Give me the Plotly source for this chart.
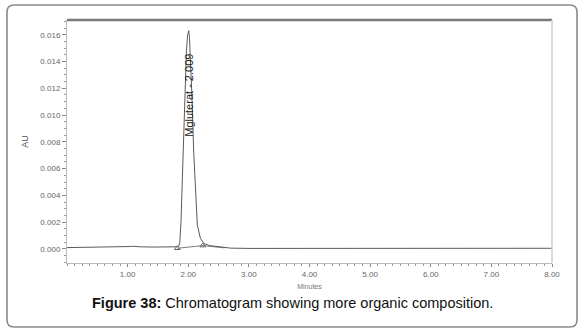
import plotly.graph_objects as go

# Chromatogram trace (minutes, AU)
time_min = [0.0, 0.3, 0.6, 0.9, 1.05, 1.1, 1.2, 1.4, 1.6, 1.8, 1.84, 1.86, 1.88, 1.91, 1.94, 1.97,
            1.99, 2.009, 2.02, 2.04, 2.06, 2.09, 2.12, 2.15, 2.2, 2.26, 2.35, 2.5, 2.7, 3.0,
            4.0, 5.0, 6.0, 7.0, 8.0]
absorb_au = [0.00010, 0.00011, 0.00012, 0.00014, 0.00018, 0.00020, 0.00016, 0.00014, 0.00014, 0.00016,
             0.00020, 0.00045, 0.0020, 0.0065, 0.0115, 0.0148, 0.0160, 0.0163, 0.0158, 0.0140,
             0.0115, 0.0072, 0.0038, 0.0018, 0.0008, 0.0004, 0.00025, 0.00015, 0.00006, 0.00004,
             0.00004, 0.00004, 0.00004, 0.00005, 0.00005]

# Integration baseline and markers
base_time = [1.82, 2.24, 2.6]
base_au = [0.00005, 0.00025, 0.00008]
marker_time = [1.82, 2.24]
marker_au = [0.00005, 0.00025]

peak_name = "Mgluterat - 2.009"
peak_time = 2.009
peak_label_au = 0.0115

x_tickvals = [1, 2, 3, 4, 5, 6, 7, 8]
x_ticktext = ["1.00", "2.00", "3.00", "4.00", "5.00", "6.00", "7.00", "8.00"]
y_tickvals = [0.0, 0.002, 0.004, 0.006, 0.008, 0.010, 0.012, 0.014, 0.016]
y_ticktext = ["0.000", "0.002", "0.004", "0.006", "0.008", "0.010", "0.012", "0.014", "0.016"]

caption_bold = "Figure 38:"
caption_rest = " Chromatogram showing more organic composition."

fig = go.Figure()
fig.add_trace(go.Scatter(x=time_min, y=absorb_au, mode="lines",
                         line=dict(color="#5a5a5a", width=1), hoverinfo="skip"))
fig.add_trace(go.Scatter(x=base_time, y=base_au, mode="lines",
                         line=dict(color="#5a5a5a", width=0.8), hoverinfo="skip"))
fig.add_trace(go.Scatter(x=marker_time, y=marker_au, mode="markers",
                         marker=dict(symbol="triangle-up-open", size=5, color="#666"),
                         hoverinfo="skip"))

fig.add_annotation(x=peak_time, y=peak_label_au, text=peak_name, textangle=-90,
                   showarrow=False, font=dict(family="Liberation Sans", size=11, color="#222"),
                   xanchor="center", yanchor="middle")

W, H = 584, 332
L, R, T, B = 67, 32, 20, 69
pw, ph = W - L - R, H - T - B


def px(x):
    return (x - L) / pw


def py(y):
    return (H - B - y) / ph


# outer rounded frame
x0, x1, y0, y1 = px(7), px(577), py(327), py(5)
rx, ry = 7 / pw, 7 / ph
path = (f"M {x0+rx},{y1} L {x1-rx},{y1} Q {x1},{y1} {x1},{y1-ry} "
        f"L {x1},{y0+ry} Q {x1},{y0} {x1-rx},{y0} L {x0+rx},{y0} Q {x0},{y0} {x0},{y0+ry} "
        f"L {x0},{y1-ry} Q {x0},{y1} {x0+rx},{y1} Z")
fig.add_shape(type="path", path=path, xref="paper", yref="paper",
              line=dict(color="#8a8a8a", width=1.6))
# plot frame lines
fig.add_shape(type="line", xref="paper", yref="paper", x0=0, x1=1, y0=1, y1=1,
              line=dict(color="#7a7a7a", width=2.5))
fig.add_shape(type="line", xref="paper", yref="paper", x0=1, x1=1, y0=0, y1=1,
              line=dict(color="#cfcfcf", width=1.5))

fig.add_annotation(xref="paper", yref="paper", x=px(292), y=py(303),
                   text=f"<b>{caption_bold}</b>{caption_rest}", showarrow=False,
                   font=dict(family="Liberation Sans", size=14.5, color="#111"),
                   xanchor="center", yanchor="middle")

axis_font = dict(family="Liberation Sans", size=8, color="#666")
fig.update_layout(
    width=W, height=H, margin=dict(l=L, r=R, t=T, b=B),
    paper_bgcolor="white", plot_bgcolor="white", showlegend=False,
    xaxis=dict(range=[0, 8], tickvals=x_tickvals, ticktext=x_ticktext, ticks="outside",
               ticklen=3, tickcolor="#888", tickfont=axis_font, showgrid=False,
               showline=True, linecolor="#bbbbbb", linewidth=1, zeroline=False,
               minor=dict(dtick=0.125, ticks="outside", ticklen=2, tickcolor="#999"),
               title=dict(text="Minutes", font=dict(family="Liberation Sans", size=7, color="#777"),
                          standoff=6)),
    yaxis=dict(range=[-0.00105, 0.0171], tickvals=y_tickvals, ticktext=y_ticktext, ticks="outside",
               ticklen=4, tickcolor="#888", tickfont=axis_font, showgrid=False,
               showline=True, linecolor="#bbbbbb", linewidth=1, zeroline=False,
               minor=dict(dtick=0.0005, ticks="outside", ticklen=2, tickcolor="#999"),
               title=dict(text="AU", font=dict(family="Liberation Sans", size=9, color="#555"),
                          standoff=10)),
)

fig.write_html("out.html", config={"displayModeBar": False},
               post_script="document.body.style.margin='0';")
